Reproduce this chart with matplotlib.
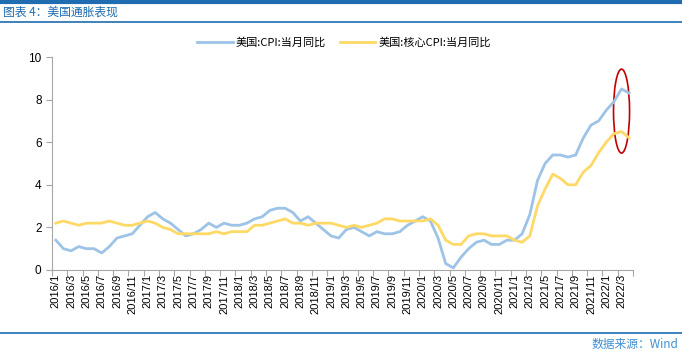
import matplotlib
matplotlib.use('Agg')
import matplotlib.pyplot as plt
from matplotlib.patches import Ellipse
from matplotlib.lines import Line2D

plt.rcParams['font.family'] = ['Liberation Sans', 'Noto Sans CJK SC', 'DejaVu Sans']

# monthly, 2016/1 .. 2022/4
months = [f'{y}/{m}' for y in range(2016, 2023) for m in range(1, 13)][:76]

cpi = [1.4, 1.0, 0.9, 1.1, 1.0, 1.0, 0.8, 1.1, 1.5, 1.6, 1.7, 2.1,
       2.5, 2.7, 2.4, 2.2, 1.9, 1.6, 1.7, 1.9, 2.2, 2.0, 2.2, 2.1,
       2.1, 2.2, 2.4, 2.5, 2.8, 2.9, 2.9, 2.7, 2.3, 2.5, 2.2, 1.9,
       1.6, 1.5, 1.9, 2.0, 1.8, 1.6, 1.8, 1.7, 1.7, 1.8, 2.1, 2.3,
       2.5, 2.3, 1.5, 0.3, 0.1, 0.6, 1.0, 1.3, 1.4, 1.2, 1.2, 1.4,
       1.4, 1.7, 2.6, 4.2, 5.0, 5.4, 5.4, 5.3, 5.4, 6.2, 6.8, 7.0,
       7.5, 7.9, 8.5, 8.3]

core_cpi = [2.2, 2.3, 2.2, 2.1, 2.2, 2.2, 2.2, 2.3, 2.2, 2.1, 2.1, 2.2,
            2.3, 2.2, 2.0, 1.9, 1.7, 1.7, 1.7, 1.7, 1.7, 1.8, 1.7, 1.8,
            1.8, 1.8, 2.1, 2.1, 2.2, 2.3, 2.4, 2.2, 2.2, 2.1, 2.2, 2.2,
            2.2, 2.1, 2.0, 2.1, 2.0, 2.1, 2.2, 2.4, 2.4, 2.3, 2.3, 2.3,
            2.3, 2.4, 2.1, 1.4, 1.2, 1.2, 1.6, 1.7, 1.7, 1.6, 1.6, 1.6,
            1.4, 1.3, 1.6, 3.0, 3.8, 4.5, 4.3, 4.0, 4.0, 4.6, 4.9, 5.5,
            6.0, 6.4, 6.5, 6.2]

labels = ['美国:CPI:当月同比', '美国:核心CPI:当月同比']
colors = ['#9DC3E6', '#FFD966']
blue = '#1F6CB0'

fig = plt.figure(figsize=(6.82, 3.56), dpi=100)
ax = fig.add_axes([52 / 682, 1 - 270 / 356, (633 - 52) / 682, (270 - 57) / 356])

x = list(range(len(months)))
ax.plot(x, cpi, color=colors[0], lw=2)
ax.plot(x, core_cpi, color=colors[1], lw=2)

ax.set_xlim(-0.5, len(months) - 0.5)
ax.set_ylim(0, 10)
ax.set_yticks(range(0, 11, 2))
ax.set_xticks([i - 0.5 for i in range(0, len(months) + 1, 2)])
ax.set_xticklabels([])
ax.set_xticks(x[::2], minor=True)
ax.set_xticklabels(months[::2], minor=True, rotation=90, fontsize=8)
ax.tick_params(axis='x', which='minor', length=0, pad=3)
ax.tick_params(axis='x', which='major', length=4, color='#A6A6A6')
ax.tick_params(axis='y', length=4, color='#A6A6A6', labelsize=8.5)
for s in ['top', 'right']:
    ax.spines[s].set_visible(False)
for s in ['left', 'bottom']:
    ax.spines[s].set_color('#A6A6A6')

# red ellipse highlight around the latest readings
ax.add_patch(Ellipse((74, 7.46), 2.1, 3.94, fill=False, ec='#C00000', lw=1.2))

handles = [Line2D([], [], color=c, lw=2) for c in colors]
fig.legend(handles, labels, loc='center', bbox_to_anchor=(344 / 682, 1 - 43 / 356),
           ncol=2, frameon=False, fontsize=8, handlelength=3.2, columnspacing=1.2,
           handletextpad=0.3, prop={'family': ['Noto Sans CJK SC', 'DejaVu Sans'], 'size': 8})

# header / footer decorations
fig.add_artist(Line2D([0, 1], [1 - 2 / 356] * 2, color=blue, lw=3))
fig.add_artist(Line2D([0, 1], [1 - 22 / 356] * 2, color=blue, lw=1.2))
fig.add_artist(Line2D([0, 1], [1 - 333 / 356] * 2, color=blue, lw=1.2))
fig.text(3 / 682, 1 - 12 / 356, '图表 4：美国通胀表现', color=blue, fontsize=8.5, va='center',
         style='italic', family=['Noto Sans CJK SC', 'DejaVu Sans'])
fig.text(678 / 682, 1 - 344 / 356, '数据来源：Wind', color='#3F8FD0', fontsize=8.5, va='center',
         ha='right', family=['Noto Sans CJK SC', 'DejaVu Sans'])

fig.savefig('out.png', dpi=100)
